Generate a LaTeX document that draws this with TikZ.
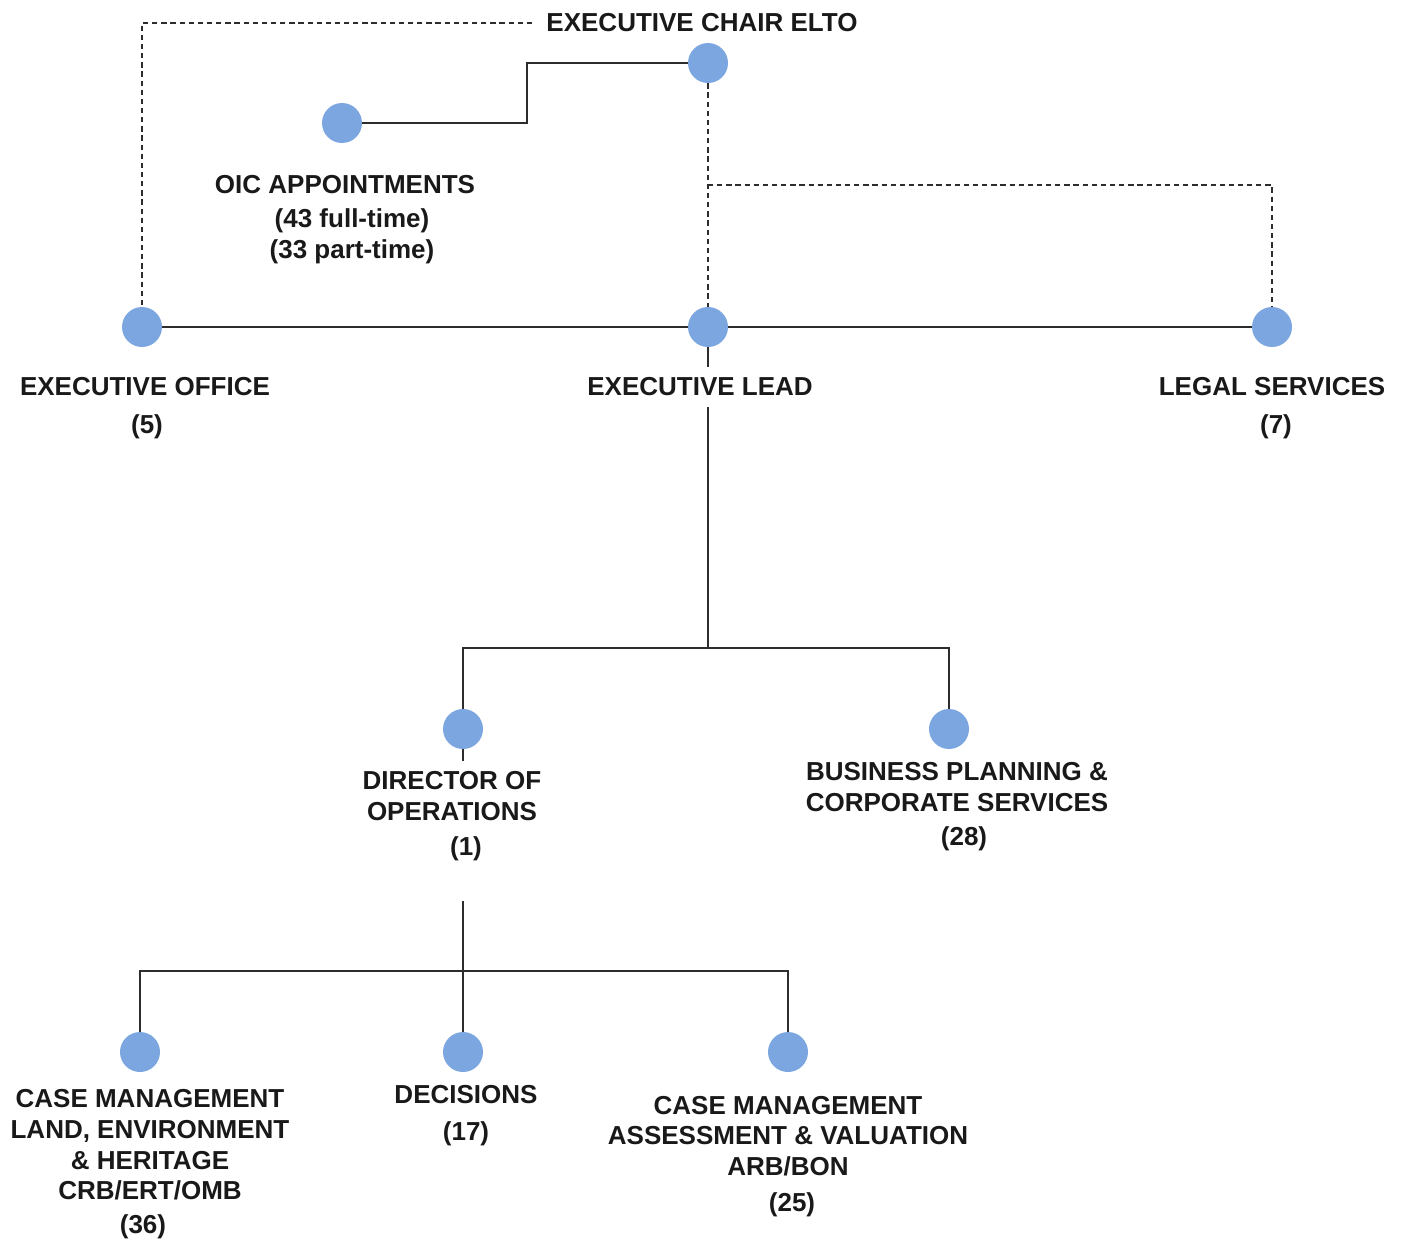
\documentclass[tikz,border=0pt]{standalone}
\usepackage{fontspec}
\setmainfont{Liberation Sans}
\definecolor{unitblue}{RGB}{124,166,224}
\definecolor{linkgray}{RGB}{45,45,45}
\usetikzlibrary{calc}

\begin{document}
\begin{tikzpicture}[x=0.02cm,y=-0.02cm,
    unit/.style={circle,fill=unitblue,minimum size=0.8cm,inner sep=0pt},
    lbl/.style={align=center,inner xsep=2pt,inner ysep=6pt,text=black!90,
        font=\fontsize{14.8pt}{17.4pt}\selectfont\bfseries},
    link/.style={draw=linkgray,line width=1.1pt},
    dotlink/.style={link,dash pattern=on 3pt off 2.2pt}]
    \useasboundingbox (0,0) rectangle (1405,1241);

    \node[unit] (chair)  at (708,63)   {};
    \node[unit] (oic)    at (342,123)  {};
    \node[unit] (office) at (142,327)  {};
    \node[unit] (lead)   at (708,327)  {};
    \node[unit] (legal)  at (1272,327) {};
    \node[unit] (dir)    at (463,729)  {};
    \node[unit] (bps)    at (949,729)  {};
    \node[unit] (cml)    at (140,1052) {};
    \node[unit] (dec)    at (463,1052) {};
    \node[unit] (cma)    at (788,1052) {};

    \node[lbl,inner xsep=8pt] (chairlbl) at (702,23) {EXECUTIVE CHAIR ELTO};
    \node[lbl] (oiclbl)   at (345,185) {OIC APPOINTMENTS};
    \node[lbl] (oicfull)  at (352,221) {(43 full-time)};
    \node[lbl] (oicpart)  at (352,252) {(33 part-time)};
    \node[lbl] (officelbl) at (145,387) {EXECUTIVE OFFICE};
    \node[lbl] (officecnt) at (147,427) {(5)};
    \node[lbl] (leadlbl)  at (700,387) {EXECUTIVE LEAD};
    \node[lbl] (legallbl) at (1272,387) {LEGAL SERVICES};
    \node[lbl] (legalcnt) at (1276,427) {(7)};
    \node[lbl] (dirlbl)   at (452,796) {DIRECTOR OF\\OPERATIONS};
    \node[lbl] (dircnt)   at (466,849) {(1)};
    \node[lbl] (bpslbl)   at (957,787) {BUSINESS PLANNING \&\\CORPORATE SERVICES};
    \node[lbl] (bpscnt)   at (964,839) {(28)};
    \node[lbl] (cmllbl)   at (150,1145) {CASE MANAGEMENT\\LAND, ENVIRONMENT\\\& HERITAGE\\CRB/ERT/OMB};
    \node[lbl] (cmlcnt)   at (143,1227) {(36)};
    \node[lbl] (declbl)   at (466,1095) {DECISIONS};
    \node[lbl] (deccnt)   at (466,1134) {(17)};
    \node[lbl] (cmalbl)   at (788,1136) {CASE MANAGEMENT\\ASSESSMENT \& VALUATION\\ARB/BON};
    \node[lbl] (cmacnt)   at (792,1205) {(25)};

    \coordinate (oicstep)    at (527,63);
    \coordinate (legalsplit) at (708,185);
    \coordinate (leadfork)   at (708,648);
    \coordinate (opsdrop)    at (463,901);
    \coordinate (opsfork)    at (463,971);

    \draw[dotlink] (chairlbl.west) -| (office);
    \draw[dotlink] (chair) -- (lead);
    \draw[dotlink] (legalsplit) -| (legal);
    \draw[link] (oic) -| (oicstep) -- (chair);
    \draw[link] (office) -- (lead) -- (legal);
    \draw[link] (lead) -- (lead |- leadlbl.north);
    \draw[link] (lead |- leadlbl.south) -- (leadfork);
    \draw[link] (dir) |- (leadfork) -| (bps);
    \draw[link] (dir) -- (dir |- dirlbl.north);
    \draw[link] (opsdrop) -- (dec);
    \draw[link] (cml) |- (opsfork) -| (cma);
\end{tikzpicture}
\end{document}
